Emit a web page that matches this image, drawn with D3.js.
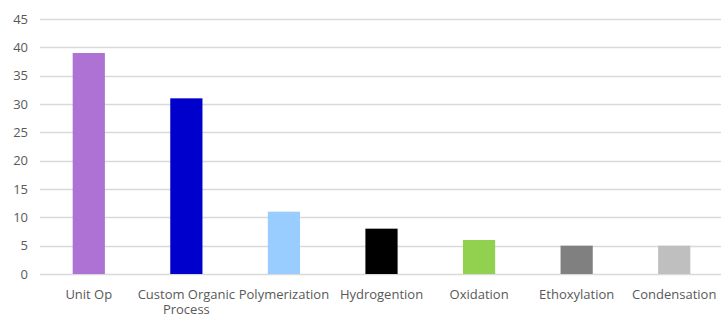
<!DOCTYPE html>
<html>
<head>
<meta charset="utf-8">
<script src="https://cdn.jsdelivr.net/npm/d3@7"></script>
<style>
  body { margin: 0; background: #fff; }
  svg text { font-family: "Open Sans", "Liberation Sans", sans-serif; fill: #595959; }
</style>
</head>
<body>
<svg id="chart" width="721" height="316"></svg>
<script>
// data
var categories = ["Unit Op", "Custom Organic Process", "Polymerization", "Hydrogention", "Oxidation", "Ethoxylation", "Condensation"];
var values = [39, 31, 11, 8, 6, 5, 5];
var barColors = ["#AD72D4", "#0000CC", "#99CCFF", "#000000", "#92D050", "#808080", "#BFBFBF"];
var yTicks = [0, 5, 10, 15, 20, 25, 30, 35, 40, 45];

var svg = d3.select("#chart");
var width = 721, height = 316;
var margin = { left: 40, right: -2, top: 19, bottom: 42 };

var x = d3.scaleBand()
  .domain(categories)
  .range([margin.left, width - margin.right])
  .paddingInner(0.67)
  .paddingOuter(0.335);

var y = d3.scaleLinear()
  .domain([0, 45])
  .range([height - margin.bottom, margin.top]);

// gridlines
svg.append("g")
  .selectAll("line")
  .data(yTicks)
  .enter().append("line")
  .attr("x1", margin.left)
  .attr("x2", width)
  .attr("y1", function(d) { return Math.round(y(d)) + 0.5; })
  .attr("y2", function(d) { return Math.round(y(d)) + 0.5; })
  .style("stroke", "#D9D9D9")
  .style("stroke-width", 1.3);

// y tick labels
svg.append("g")
  .selectAll("text")
  .data(yTicks)
  .enter().append("text")
  .attr("x", 28)
  .attr("y", function(d) { return y(d); })
  .attr("dy", "0.35em")
  .attr("text-anchor", "end")
  .style("font-size", "13px")
  .text(function(d) { return d; });

// bars
svg.append("g")
  .selectAll("rect")
  .data(values)
  .enter().append("rect")
  .attr("x", function(d, i) { return x(categories[i]); })
  .attr("width", x.bandwidth())
  .attr("y", function(d) { return y(d); })
  .attr("height", function(d) { return y(0) - y(d); })
  .style("fill", function(d, i) { return barColors[i]; });

// x labels, the long one wraps on two lines
var labelLines = {
  "Custom Organic Process": ["Custom Organic", "Process"]
};
var xl = svg.append("g")
  .selectAll("text")
  .data(categories)
  .enter().append("text")
  .attr("x", function(d) { return x(d) + x.bandwidth() / 2; })
  .attr("y", 299)
  .attr("text-anchor", "middle")
  .style("font-size", "13px");

xl.each(function(d) {
  var lines = labelLines[d] || [d];
  var t = d3.select(this);
  lines.forEach(function(line, k) {
    t.append("tspan")
      .attr("x", t.attr("x"))
      .attr("dy", k === 0 ? 0 : 15)
      .text(line);
  });
});
</script>
</body>
</html>
